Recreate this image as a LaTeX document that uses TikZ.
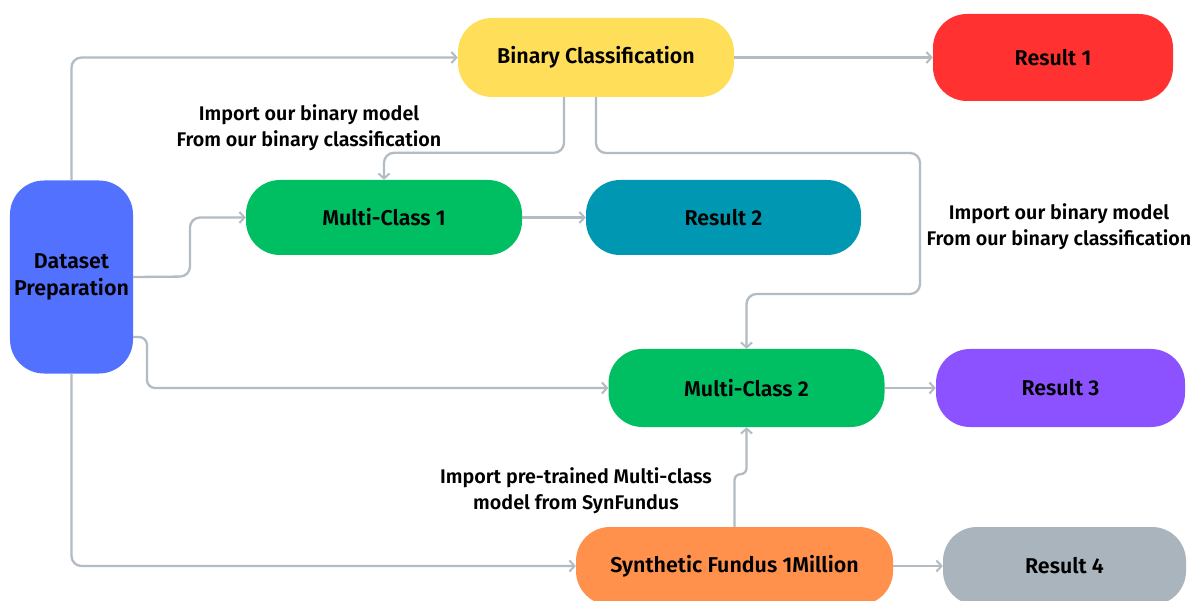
\documentclass[tikz,border=0pt]{standalone}
\usepackage{fontspec}
\setmainfont{Fira Sans}[BoldFont={Fira Sans SemiBold}]
\usetikzlibrary{arrows.meta,calc}
\definecolor{cblue}{HTML}{5271FF}
\definecolor{cyellow}{HTML}{FFDE59}
\definecolor{cred}{HTML}{FF3131}
\definecolor{cgreen}{HTML}{00BF63}
\definecolor{cteal}{HTML}{0097B2}
\definecolor{cpurple}{HTML}{8C52FF}
\definecolor{corange}{HTML}{FF914D}
\definecolor{cgray}{HTML}{A9B4BC}
\definecolor{cline}{HTML}{B3BBC3}
\tikzset{
  box/.style={rounded corners=34bp, inner sep=0pt, align=center,
    font=\fontsize{21.5}{27}\selectfont\bfseries, text=black},
  conn/.style={draw=cline, line width=2.3bp, rounded corners=10bp,
    -{Straight Barb[length=5bp,width=11bp,line width=2bp]}},
  note/.style={align=center, font=\fontsize{19.8}{26}\selectfont\bfseries, text=black}
}
\begin{document}
\begin{tikzpicture}[x=1bp,y=-1bp]
\useasboundingbox (0,0) rectangle (1194,601);
\clip (0,0) rectangle (1194,601);
\fill[white] (0,0) rectangle (1194,601);

% process boxes
\node[box, fill=cblue, minimum width=123bp, minimum height=193bp] (ds) at (71.5,277) {Dataset\\Preparation};
\node[box, fill=cyellow, minimum width=276bp, minimum height=79bp] (bin) at (596,57.5) {Binary Classification};
\node[box, fill=cred, minimum width=240bp, minimum height=87bp] (r1) at (1053,57.5) {Result 1};
\node[box, fill=cgreen, minimum width=276bp, minimum height=75bp] (mc1) at (384,217.5) {Multi-Class 1};
\node[box, fill=cteal, minimum width=275bp, minimum height=75bp] (r2) at (723.5,217.5) {Result 2};
\node[box, fill=cgreen, minimum width=276bp, minimum height=78bp] (mc2) at (746.5,388) {Multi-Class 2};
\node[box, fill=cpurple, minimum width=249bp, minimum height=78bp] (r3) at (1060.5,388) {Result 3};
\node[box, fill=corange, minimum width=317bp, minimum height=78bp] (syn) at (734.5,566) {Synthetic Fundus 1Million};
\node[box, fill=cgray, minimum width=243bp, minimum height=78bp] (r4) at (1064.5,566) {Result 4};

% annotations
\node[note] (n1) at (309,128) {Import our binary model\\From our binary classification};
\node[note] (n2) at (1059,227) {Import our binary model\\From our binary classification};
\node[note] (n3) at (576,491) {Import pre-trained Multi-class\\model from SynFundus};

% turning points
\coordinate (t1) at (190,276.5);
\coordinate (t2) at (920,153);
\coordinate (t3) at (920,294);
\coordinate (t4) at (147,337);

% connectors
\draw[conn] (ds.north) |- (bin.west);
\draw[conn] (bin.east) -- (r1.west);
\draw[conn] (ds.east) -- (t1) |- (mc1.west);
\draw[conn] ([xshift=-32bp]bin.south) |- ($(mc1.north)+(0,-27)$) -- (mc1.north);
\draw[conn] (mc1.east) -- (r2.west);
\draw[conn] (bin.south) |- (t2) -- (t3) -| (mc2.north);
\draw[conn, rounded corners=8bp] ([yshift=-60bp]ds.east) -- (t4) |- (mc2.west);
\draw[conn] (mc2.east) -- (r3.west);
\draw[conn] (ds.south) |- (syn.west);
\draw[conn, rounded corners=6bp] (syn.north) |- ($(mc2.south)+(0,47)$) -- (mc2.south);
\draw[conn] (syn.east) -- (r4.west);
\end{tikzpicture}
\end{document}
